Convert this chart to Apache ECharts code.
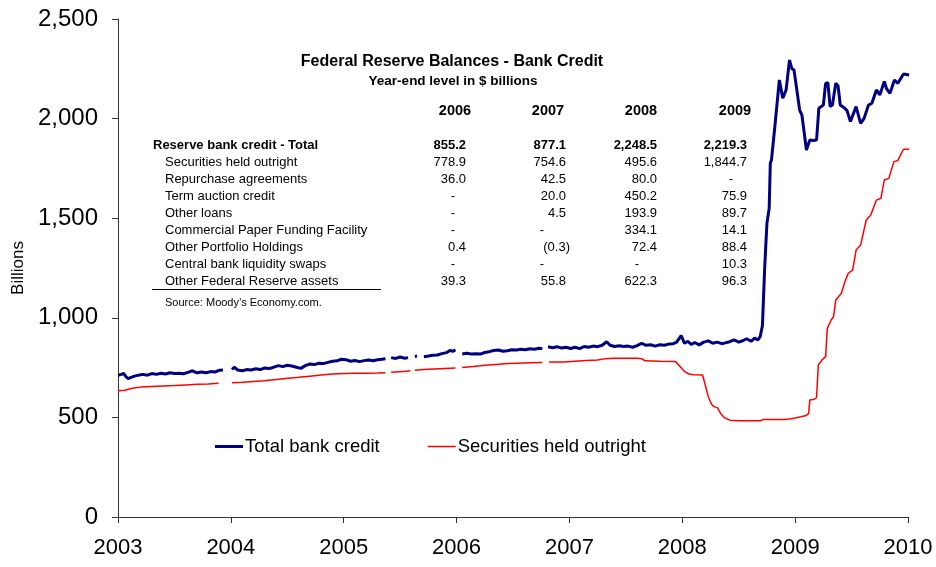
<!DOCTYPE html>
<html>
<head>
<meta charset="utf-8">
<script src="https://cdn.jsdelivr.net/npm/echarts@6/dist/echarts.min.js"></script>
<style>
  html, body { margin: 0; padding: 0; background: #fff; }
  #chart { width: 936px; height: 567px; }
</style>
</head>
<body>
<div id="chart"></div>
<script>
// Weekly Fed balance sheet readings, decimal years; null marks a missing week
const creditYears = [
  2003.00, 2003.03, 2003.05, 2003.07, 2003.09, 2003.11, 2003.14, 2003.18, 2003.22, 2003.26,
  2003.30, 2003.34, 2003.38, 2003.42, 2003.46, 2003.50, 2003.54, 2003.58, 2003.62, 2003.66,
  2003.70, 2003.74, 2003.78, 2003.82, 2003.86, 2003.90, 2003.93, 2003.96,
  2004.01, 2004.03, 2004.06, 2004.10, 2004.14, 2004.18, 2004.22, 2004.26, 2004.30, 2004.34,
  2004.38, 2004.42, 2004.46, 2004.50, 2004.54, 2004.58, 2004.62, 2004.66, 2004.70, 2004.74,
  2004.78, 2004.82, 2004.86, 2004.90, 2004.94, 2004.98,
  2005.02, 2005.06, 2005.10, 2005.14, 2005.18, 2005.22, 2005.26, 2005.30, 2005.34, 2005.37,
  2005.39, 2005.42, 2005.46, 2005.50, 2005.54, 2005.57, 2005.60, 2005.63, 2005.65, 2005.675,
  2005.71, 2005.75, 2005.79, 2005.83, 2005.87, 2005.91, 2005.94, 2005.97, 2005.99, 2006.02,
  2006.05, 2006.09, 2006.13, 2006.17, 2006.21, 2006.25, 2006.29, 2006.33, 2006.37, 2006.41,
  2006.45, 2006.49, 2006.53, 2006.57, 2006.61, 2006.65, 2006.69, 2006.73, 2006.76, 2006.785,
  2006.81, 2006.85, 2006.89, 2006.93, 2006.97,
  2007.01, 2007.05, 2007.09, 2007.13, 2007.17, 2007.21, 2007.25, 2007.29, 2007.33, 2007.36,
  2007.40, 2007.44, 2007.48, 2007.52, 2007.56, 2007.60, 2007.64, 2007.68, 2007.72, 2007.76,
  2007.80, 2007.84, 2007.88, 2007.92, 2007.95, 2007.99,
  2008.02, 2008.05, 2008.08, 2008.11, 2008.15, 2008.19, 2008.23, 2008.27, 2008.31, 2008.35,
  2008.38, 2008.42, 2008.46, 2008.50, 2008.54, 2008.57, 2008.61, 2008.64, 2008.67, 2008.69,
  2008.71, 2008.73, 2008.75, 2008.77, 2008.78, 2008.79, 2008.82, 2008.86, 2008.89, 2008.92,
  2008.95, 2008.97, 2008.99,
  2009.04, 2009.06, 2009.10, 2009.13, 2009.16, 2009.19, 2009.21, 2009.25, 2009.27, 2009.29,
  2009.31, 2009.33, 2009.36, 2009.38, 2009.40, 2009.44, 2009.46, 2009.49, 2009.54, 2009.58,
  2009.61, 2009.65, 2009.68, 2009.72, 2009.75, 2009.79, 2009.81, 2009.84, 2009.88, 2009.91,
  2009.96, 2010.01
];
const totalCredit = [
  712, 716, 721, 705, 694, 700, 706, 712, 716, 712,
  720, 716, 722, 718, 724, 720, 722, 719, 726, 734,
  724, 728, 724, 730, 728, 737, 738, null,
  740, 752, 738, 734, 740, 738, 744, 740, 748, 745,
  752, 760, 755, 762, 758, 752, 746, 760, 768, 765,
  772, 770, 776, 782, 784, 792,
  790, 782, 786, 780, 785, 788, 784, 789, 792, 794,
  null, 800, 796, 803, 797, 800, null, 806, 808, null,
  805, 808, 812, 813, 820, 825, 836, 832, 840, null,
  818, 822, 818, 820, 818, 826, 830, 836, 838, 832,
  835, 840, 838, 842, 840, 845, 842, 847, 845, null,
  855, 850, 855, 848, 852,
  846, 852, 845, 856, 852, 858, 855, 862, 880, 862,
  856, 860, 856, 858, 852, 860, 872, 862, 865, 858,
  865, 862, 868, 870, 878, 910,
  872, 882, 866, 876, 864, 878, 884, 872, 878, 870,
  874, 880, 889, 878, 886, 895, 882, 898, 889, 905,
  960, 1250, 1474, 1550, 1776, 1792, 1959, 2194, 2102, 2144,
  2294, 2252, 2244,
  2043, 2018, 1842, 1893, 1890, 1893, 2052, 2068, 2177, 2180,
  2060, 2068, 2177, 2165, 2068, 2052, 2040, 1985, 2060, 1976,
  2000, 2068, 2077, 2144, 2119, 2186, 2150, 2127, 2194, 2177,
  2224, 2219
];

const securityYears = [
  2003.00, 2003.06, 2003.10, 2003.14, 2003.20, 2003.30, 2003.40, 2003.50, 2003.60, 2003.70,
  2003.80, 2003.89, 2003.96,
  2004.01, 2004.10, 2004.20, 2004.30, 2004.40, 2004.51, 2004.60, 2004.70, 2004.80, 2004.90,
  2005.00, 2005.10, 2005.20, 2005.30, 2005.37, 2005.39, 2005.42, 2005.55, 2005.59, 2005.61,
  2005.63, 2005.70, 2005.80, 2005.90, 2005.99, 2006.02,
  2006.05, 2006.15, 2006.25, 2006.35, 2006.45, 2006.55, 2006.65, 2006.76, 2006.785, 2006.82,
  2006.95, 2007.05, 2007.15, 2007.25, 2007.32, 2007.40, 2007.50, 2007.60, 2007.64, 2007.67,
  2007.80, 2007.94, 2007.98,
  2008.02, 2008.06, 2008.10, 2008.18, 2008.20, 2008.23, 2008.26, 2008.28, 2008.31, 2008.34,
  2008.37, 2008.42, 2008.50, 2008.60, 2008.69, 2008.72, 2008.80, 2008.90, 2008.95,
  2009.00, 2009.05, 2009.10, 2009.12, 2009.13, 2009.17, 2009.19, 2009.205, 2009.24, 2009.27,
  2009.285, 2009.32, 2009.34, 2009.36, 2009.41, 2009.44, 2009.47, 2009.51, 2009.54, 2009.58,
  2009.63, 2009.67, 2009.72, 2009.76, 2009.79, 2009.83, 2009.875, 2009.91, 2009.96, 2010.01
];
const securities = [
  634, 636, 643, 648, 652, 655, 658, 660, 663, 666,
  668, 671, null,
  674, 676, 680, 684, 690, 696, 701, 707, 713, 718,
  721, 722, 722, 723, 724, null, 727, 732, 734, null,
  737, 740, 743, 746, 748, null,
  750, 755, 762, 766, 770, 772, 774, 776, null, 778,
  778, 782, 786, 788, 795, 797, 797, 797, 795, 784,
  782, 780, 755,
  730, 718, 714, 713, 670, 604, 565, 554, 549, 520,
  500, 486, 483, 483, 483, 490, 490, 490, 492,
  497, 503, 510, 520, 587, 591, 600, 763, 790, 805,
  947, 990, 1005, 1089, 1123, 1180, 1223, 1240, 1340, 1365,
  1491, 1516, 1591, 1600, 1692, 1700, 1784, 1790, 1846, 1846
];

const yearTicks = [2003, 2004, 2005, 2006, 2007, 2008, 2009, 2010];

// Summary table printed inside the plot area
const tableTitle = 'Federal Reserve Balances - Bank Credit';
const tableSubtitle = 'Year-end level in $ billions';
const tableYears = ['2006', '2007', '2008', '2009'];
const tableRows = [
  ['Reserve bank credit - Total', '855.2', '877.1', '2,248.5', '2,219.3'],
  ['Securities held outright', '778.9', '754.6', '495.6', '1,844.7'],
  ['Repurchase agreements', '36.0', '42.5', '80.0', '-'],
  ['Term auction credit', '-', '20.0', '450.2', '75.9'],
  ['Other loans', '-', '4.5', '193.9', '89.7'],
  ['Commercial Paper Funding Facility', '-', '-', '334.1', '14.1'],
  ['Other Portfolio Holdings', '0.4', '(0.3)', '72.4', '88.4'],
  ['Central bank liquidity swaps', '-', '-', '-', '10.3'],
  ['Other Federal Reserve assets', '39.3', '55.8', '622.3', '96.3']
];
const tableSource = 'Source: Moody\u2019s Economy.com.';

const FONT = '"Liberation Sans", Arial, sans-serif';

function pairs(xs, ys) {
  return xs.map((x, i) => [x, ys[i] === null ? '-' : ys[i]]);
}

// Table layout
const colHeaderX = [455, 548, 641, 735];
const colRightX = [466, 566, 657, 747];
const colDashX = [453, 542, 637, 731];
const rowTop = 145, rowStep = 17;

const graphics = [];
graphics.push({ type: 'text', x: 452, y: 62, style: { text: tableTitle, font: 'bold 16px ' + FONT, fill: '#000', align: 'center', verticalAlign: 'middle' } });
graphics.push({ type: 'text', x: 453, y: 81, style: { text: tableSubtitle, font: 'bold 13.5px ' + FONT, fill: '#000', align: 'center', verticalAlign: 'middle' } });
tableYears.forEach((y, i) => {
  graphics.push({ type: 'text', x: colHeaderX[i], y: 111, style: { text: y, font: 'bold 14.5px ' + FONT, fill: '#000', align: 'center', verticalAlign: 'middle' } });
});
tableRows.forEach((row, r) => {
  const yy = rowTop + r * rowStep;
  const bold = r === 0;
  const f = (bold ? 'bold ' : '') + '13px ' + FONT;
  graphics.push({ type: 'text', x: bold ? 153 : 165, y: yy, style: { text: row[0], font: f, fill: '#000', align: 'left', verticalAlign: 'middle' } });
  for (let c = 0; c < 4; c++) {
    const v = row[c + 1];
    if (v === '-') {
      graphics.push({ type: 'text', x: colDashX[c], y: yy, style: { text: '-', font: f, fill: '#000', align: 'center', verticalAlign: 'middle' } });
    } else {
      const xr = v.charAt(0) === '(' ? colRightX[c] + 4 : colRightX[c];
      graphics.push({ type: 'text', x: xr, y: yy, style: { text: v, font: f, fill: '#000', align: 'right', verticalAlign: 'middle' } });
    }
  }
});
graphics.push({ type: 'line', shape: { x1: 152, y1: 289.5, x2: 381, y2: 289.5 }, style: { stroke: '#000', lineWidth: 1 } });
graphics.push({ type: 'text', x: 165, y: 303, style: { text: tableSource, font: '11px ' + FONT, fill: '#000', align: 'left', verticalAlign: 'middle' } });

const chart = echarts.init(document.getElementById('chart'), null, { renderer: 'canvas' });
chart.setOption({
  animation: false,
  backgroundColor: '#fff',
  textStyle: { fontFamily: FONT },
  grid: { left: 118, right: 28, top: 19, bottom: 50, containLabel: false, outerBoundsMode: 'none' },
  legend: {
    left: 210, top: 432,
    itemWidth: 28, itemHeight: 14, itemGap: 48,
    textStyle: { fontSize: 18.5, color: '#000', fontFamily: FONT, padding: [0, 0, 0, -3] },
    data: [
      { name: 'Total bank credit', icon: 'path://M0,6 L28,6 L28,9 L0,9 Z' },
      { name: 'Securities held outright', icon: 'path://M0,7 L28,7 L28,8.5 L0,8.5 Z' }
    ]
  },
  xAxis: {
    type: 'value', min: 2003, max: 2010, interval: 1,
    axisLine: { lineStyle: { color: '#333', width: 1 } },
    axisTick: { show: true, length: 6, lineStyle: { color: '#333' } },
    splitLine: { show: false },
    axisLabel: {
      fontSize: 22, color: '#000', margin: 20, fontFamily: FONT,
      formatter: v => (yearTicks.indexOf(v) >= 0 ? String(v) : '')
    }
  },
  yAxis: {
    type: 'value', min: 0, max: 2500, interval: 500,
    name: 'Billions', nameLocation: 'middle', nameGap: 85, nameRotate: 90,
    nameTextStyle: { fontSize: 17, color: '#000', fontFamily: FONT },
    axisLine: { show: true, lineStyle: { color: '#333', width: 1 } },
    axisTick: { show: true, length: 6, lineStyle: { color: '#333' } },
    splitLine: { show: false },
    axisLabel: {
      fontSize: 24, color: '#000', margin: 20, fontFamily: FONT,
      formatter: v => v.toLocaleString('en-US')
    }
  },
  graphic: graphics,
  series: [
    {
      name: 'Total bank credit', type: 'line', showSymbol: false, symbol: 'none',
      connectNulls: false, smooth: false,
      lineStyle: { color: '#000080', width: 3 }, itemStyle: { color: '#000080' },
      data: pairs(creditYears, totalCredit), z: 3
    },
    {
      name: 'Securities held outright', type: 'line', showSymbol: false, symbol: 'none',
      connectNulls: false, smooth: false,
      lineStyle: { color: '#ff0000', width: 1.5 }, itemStyle: { color: '#ff0000' },
      data: pairs(securityYears, securities), z: 2
    }
  ]
});
</script>
</body>
</html>
